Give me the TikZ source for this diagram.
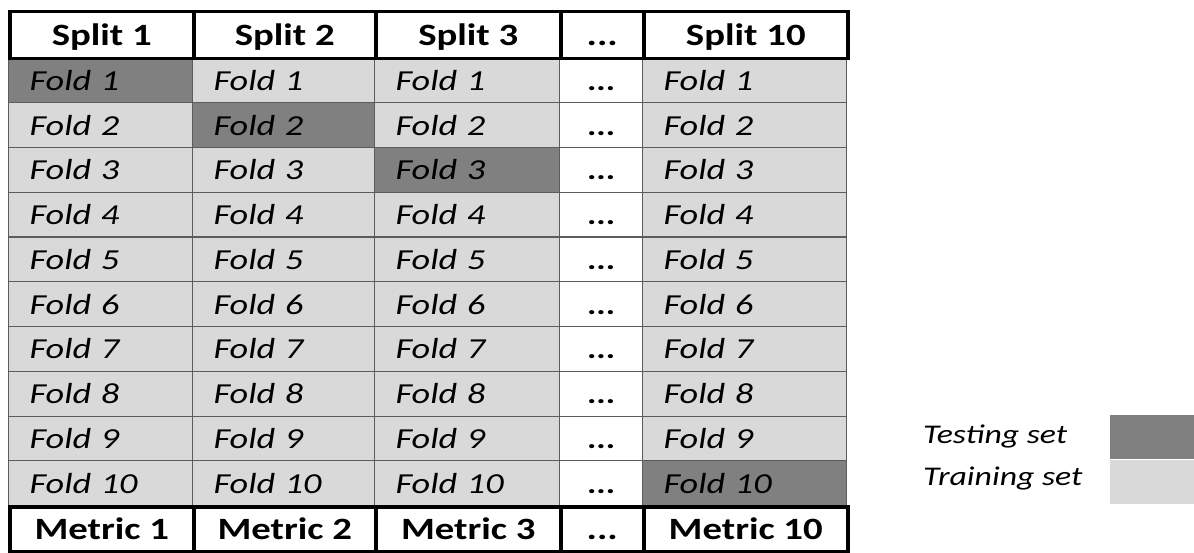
\documentclass[tikz,border=0pt]{standalone}
\usepackage{fontspec}
\setmainfont{Carlito}[FakeStretch=1.25]
\usetikzlibrary{positioning}

\definecolor{testgray}{HTML}{808080}
\definecolor{traingray}{HTML}{D9D9D9}
\definecolor{rulegray}{HTML}{5C5C5C}

\tikzset{
  headcell/.style={draw=black, line width=3.5pt, fill=white, anchor=north west,
    inner sep=0pt, minimum height=47pt, text height=24pt, text depth=4pt,
    font=\fontsize{31}{31}\selectfont\bfseries},
  foldcell/.style={draw=rulegray, line width=1.2pt, fill=traingray, anchor=north west,
    inner ysep=0pt, inner xsep=21pt, minimum height=44.75pt, text height=24pt,
    text depth=4pt, align=left, font=\fontsize{29}{29}\selectfont\itshape},
  testcell/.style={foldcell, fill=testgray},
  dotcell/.style={foldcell, fill=white, inner xsep=0pt,
    font=\fontsize{28}{28}\selectfont\bfseries},
  legendbox/.style={anchor=north west, inner sep=0pt, minimum width=84pt,
    minimum height=44pt},
  legendtext/.style={anchor=base west, inner xsep=0pt,
    font=\fontsize{27}{27}\selectfont\itshape}
}

\begin{document}
\begin{tikzpicture}[x=1pt, y=-1pt]
\useasboundingbox (0,0) rectangle (1194,553);

  % Folds of each split
  \foreach \r in {1,...,10} {
    \pgfmathsetmacro{\ytop}{57.5+(\r-1)*44.75}
    \foreach \c/\x/\w in {1/8/184, 2/192/182, 3/374/185, 10/642/204} {
      \pgfmathsetmacro{\tw}{\w-42}
      \def\cellstyle{foldcell}
      \ifnum\r=\c \def\cellstyle{testcell}\fi
      \node[\cellstyle, text width=\tw pt, minimum width=\w pt] (s\c-f\r) at (\x,\ytop) {Fold \r};
    }
    \node[dotcell, minimum width=83pt] (dots-f\r) at (559,\ytop) {...};
  }

  % Header row
  \node[headcell, minimum width=184pt] (hd1) at (8,10) {Split 1};
  \node[headcell, minimum width=182pt] (hd2) at (192,10) {Split 2};
  \node[headcell, minimum width=185pt] (hd3) at (374,10) {Split 3};
  \node[headcell, minimum width=83pt] (hddots) at (559,10) {...};
  \node[headcell, minimum width=204pt] (hd10) at (642,10) {Split 10};

  % Metric row
  \node[headcell, minimum width=184pt, minimum height=45pt] (m1) at (8,505) {Metric 1};
  \node[headcell, minimum width=182pt, minimum height=45pt] (m2) at (192,505) {Metric 2};
  \node[headcell, minimum width=185pt, minimum height=45pt] (m3) at (374,505) {Metric 3};
  \node[headcell, minimum width=83pt, minimum height=45pt] (mdots) at (559,505) {...};
  \node[headcell, minimum width=204pt, minimum height=45pt] (m10) at (642,505) {Metric 10};

  % Legend
  \node[legendbox, fill=testgray] (testbox) at (1110,415) {};
  \node[legendbox, fill=traingray, below=0pt of testbox] (trainbox) {};
  \node[legendtext] (testlbl) at (923,443) {Testing set};
  \node[legendtext] (trainlbl) at (923,485) {Training set};
\end{tikzpicture}
\end{document}
